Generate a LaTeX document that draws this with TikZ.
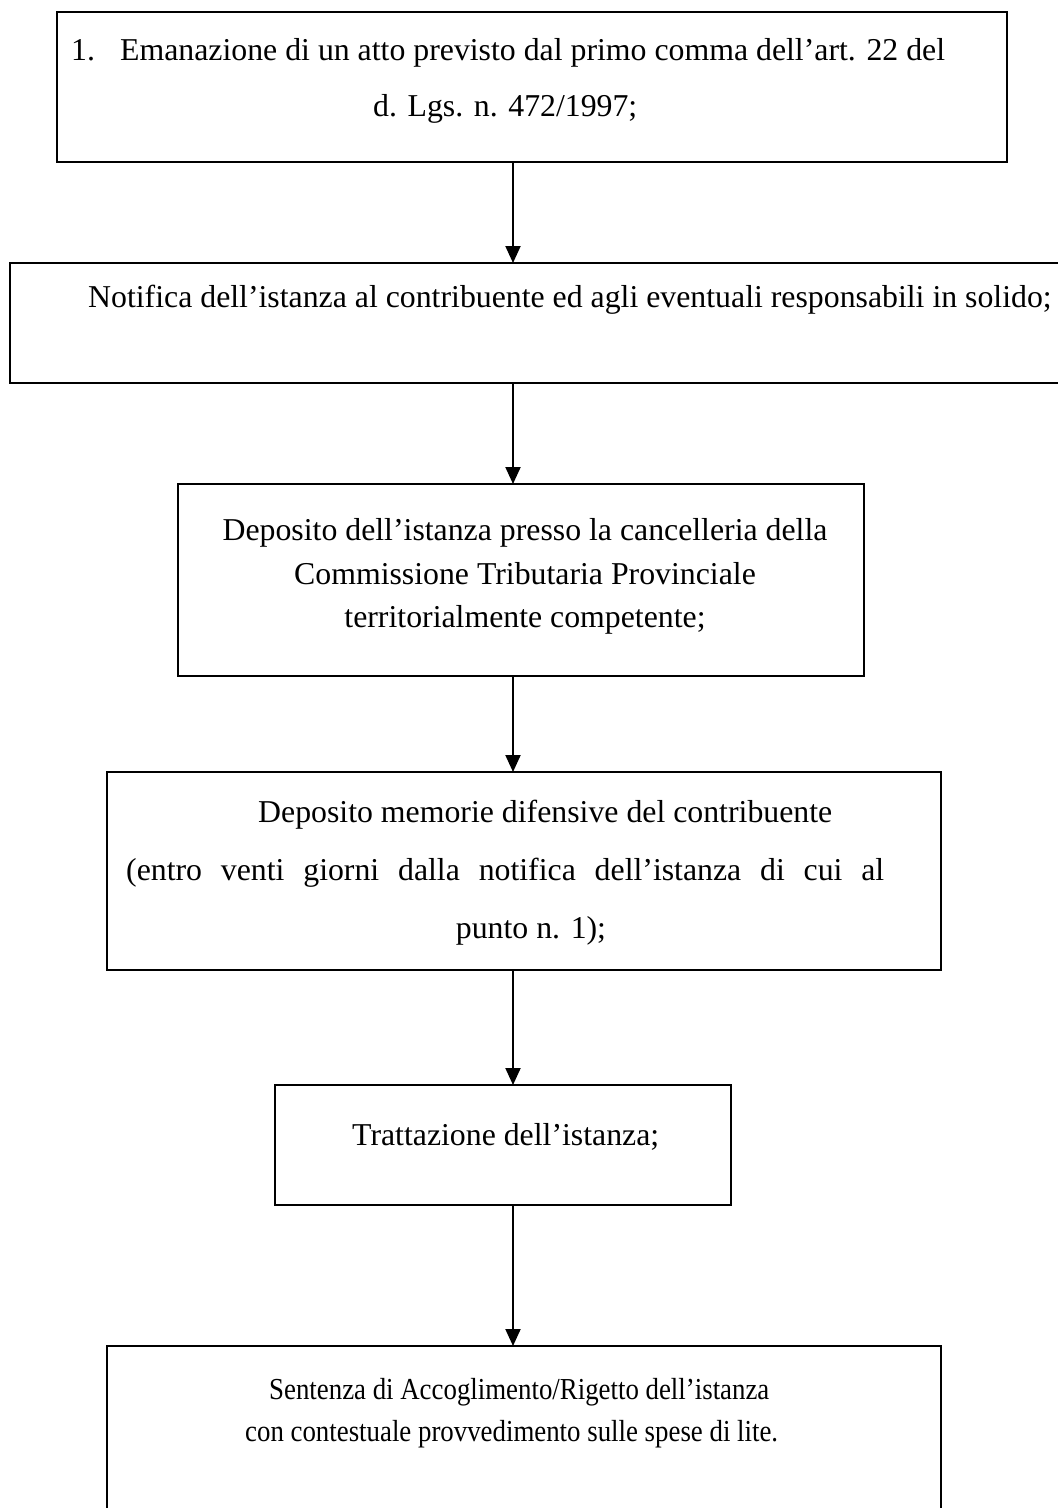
\documentclass[tikz,border=0pt]{standalone}
\usepackage{fontspec}
\setmainfont{Liberation Serif}
\newfontfamily\narrowserif[FakeStretch=0.88]{Liberation Serif}
\usetikzlibrary{arrows.meta}
\begin{document}
\begin{tikzpicture}[x=1pt,y=-1pt,
  boxst/.style={draw=black,line width=2.2pt},
  lbl/.style={anchor=base west,inner sep=0pt,font=\fontsize{31.8}{38}\selectfont},
  lblsm/.style={lbl,font=\narrowserif\fontsize{30.5}{37}\selectfont},
  arr/.style={line width=2pt,-{Triangle[width=15pt,length=17pt]}}]
\useasboundingbox (0,0) rectangle (1058,1508);
\clip (0,0) rectangle (1058,1508);
% boxes
\draw[boxst] (57,12) rectangle (1007,162);
\coordinate (b1s) at (513,162);
\draw[boxst] (10,263) rectangle (1080,383);
\coordinate (b2n) at (513,263); \coordinate (b2s) at (513,383);
\draw[boxst] (178,484) rectangle (864,676);
\coordinate (b3n) at (513,484); \coordinate (b3s) at (513,676);
\draw[boxst] (107,772) rectangle (941,970);
\coordinate (b4n) at (513,772); \coordinate (b4s) at (513,970);
\draw[boxst] (275,1085) rectangle (731,1205);
\coordinate (b5n) at (513,1085); \coordinate (b5s) at (513,1205);
\draw[boxst] (107,1346) rectangle (941,1530);
\coordinate (b6n) at (513,1346);
% texts
\node[lbl] (t1a) at (71,60) {\makebox[49pt][l]{1.}Emanazione di un atto previsto dal primo comma dell’art. 22 del};
\node[lbl] (t1b) at (373,116) {d. Lgs. n. 472/1997;};
\node[lbl] (t2) at (88,307) {Notifica dell’istanza al contribuente ed agli eventuali responsabili in solido;};
\node[lbl,anchor=base] (t3a) at (525,540) {Deposito dell’istanza presso la cancelleria della};
\node[lbl,anchor=base] (t3b) at (525,584) {Commissione Tributaria Provinciale};
\node[lbl,anchor=base] (t3c) at (525,627) {territorialmente competente;};
\node[lbl] (t4a) at (258,822) {Deposito memorie difensive del contribuente};
\node[lbl] (t4b) at (126,880) {\makebox[758pt][s]{(entro venti giorni dalla notifica dell’istanza di cui al}};
\node[lbl,anchor=base] (t4c) at (531,938) {punto n. 1);};
\node[lbl] (t5) at (352,1145) {Trattazione dell’istanza;};
\node[lblsm] (t6a) at (269,1399) {Sentenza di Accoglimento/Rigetto dell’istanza};
\node[lblsm] (t6b) at (245,1441) {con contestuale provvedimento sulle spese di lite.};
% arrows
\draw[arr] (b1s) -- (b2n);
\draw[arr] (b2s) -- (b3n);
\draw[arr] (b3s) -- (b4n);
\draw[arr] (b4s) -- (b5n);
\draw[arr] (b5s) -- (b6n);
\end{tikzpicture}
\end{document}
